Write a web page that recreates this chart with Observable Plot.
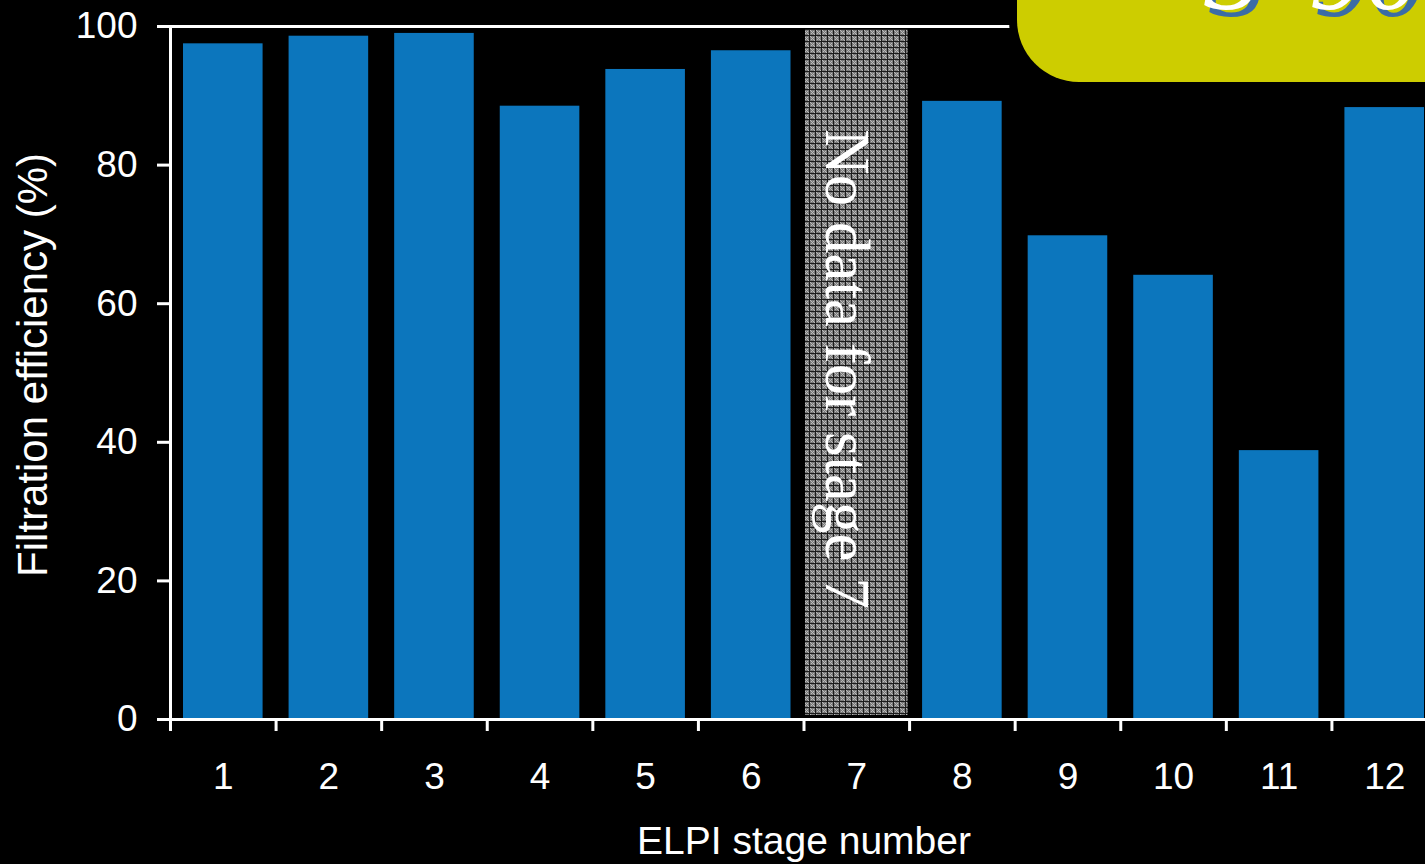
<!DOCTYPE html>
<html>
<head>
<meta charset="utf-8">
<script src="https://cdn.jsdelivr.net/npm/d3@7"></script>
<script src="https://cdn.jsdelivr.net/npm/@observablehq/plot@0.6"></script>
<style>
  html, body { margin: 0; padding: 0; background: #000; overflow: hidden; width: 1425px; height: 864px; }
  #chart { position: absolute; left: 0; top: 0; }
  #chart svg { max-width: none !important; }
  #badge {
    position: absolute; left: 1009px; top: -20px; width: 440px; height: 102px;
    background: #cdcd00; border-left: 8px solid #000; border-bottom: 8px solid #000;
    border-radius: 0 0 0 70px; overflow: hidden;
  }
  #badge span {
    position: absolute; font-family: "Liberation Serif", "Times New Roman", serif;
    font-style: italic; font-size: 112px; line-height: 1; color: #fff;
    text-shadow: 5px 7px 0 #3b6ca6;
  }
</style>
</head>
<body>
<div id="chart"></div>
<div id="badge"><span style="left:186px;top:-65px">S</span><span style="left:292px;top:-65px">90</span></div>
<script>
// ELPI stages and measured filtration efficiency (%); stage 7 has no measurement
const stages = [1, 2, 3, 4, 5, 6, 7, 8, 9, 10, 11, 12];
const efficiency = [97.5, 98.6, 99.0, 88.5, 93.8, 96.5, null, 89.2, 69.8, 64.1, 38.8, 88.3];
const yTicks = [0, 20, 40, 60, 80, 100];
const noDataStage = 7;
const noDataText = "No data for stage 7";
const xLabel = "ELPI stage number";
const yLabel = "Filtration efficiency (%)";

const rows = stages
  .map((s, i) => ({stage: s, eff: efficiency[i]}))
  .filter(d => d.eff != null);
// tick marks sit on the boundaries between stages
const boundaries = stages.map(s => s - 0.5).concat([stages[stages.length - 1] + 0.5]);

const chart = Plot.plot({
  width: 1437,
  height: 864,
  marginLeft: 170,
  marginRight: 0,
  marginTop: 26,
  marginBottom: 145,
  style: {
    background: "#000",
    color: "#fff",
    fontFamily: "'Liberation Sans', Arial, sans-serif",
    fontSize: "37px",
    maxWidth: "none"
  },
  x: {type: "linear", domain: [0.5, 12.5]},
  y: {domain: [0, 100]},
  marks: [
    // hatched placeholder for the missing stage
    Plot.rectY([noDataStage], {
      x1: d => d - 0.5, x2: d => d + 0.5, y1: 0, y2: 100,
      fill: "url(#nodata)", insetLeft: 1.5, insetRight: 1.5, insetTop: 3, insetBottom: 4
    }),
    Plot.rectY(rows, {
      x1: d => d.stage - 0.5, x2: d => d.stage + 0.5, y1: 0, y2: "eff",
      fill: "#0c76bd", insetLeft: 13, insetRight: 13
    }),
    Plot.text([noDataText], {
      x: noDataStage, y: 50, rotate: 90, text: d => d, textAnchor: "middle",
      fill: "#fff", fontFamily: "'Liberation Serif', 'Times New Roman', serif",
      fontSize: 63, lineAnchor: "bottom", dx: -31, dy: -4
    }),
    // frame lines
    Plot.ruleY([0, 100], {stroke: "#fff", strokeWidth: 3}),
    Plot.ruleX([0.5], {y1: 0, y2: 100, stroke: "#fff", strokeWidth: 3}),
    // axes
    Plot.axisY({ticks: yTicks, tickSize: 13, tickPadding: 20, strokeWidth: 3, fontSize: 37, label: null}),
    Plot.axisX({ticks: boundaries, tickSize: 12, tickFormat: () => "", strokeWidth: 3, label: null}),
    Plot.axisX({ticks: stages, tickSize: 0, tickPadding: 43, tickFormat: d => String(d), fontSize: 37, label: null}),
    // axis titles
    Plot.text([xLabel], {frameAnchor: "bottom", text: d => d, textAnchor: "middle", lineAnchor: "top", dy: 107, fill: "#fff", fontSize: 39}),
    Plot.text([yLabel], {frameAnchor: "left", text: d => d, textAnchor: "middle", rotate: -90, lineAnchor: "bottom", dx: -124, dy: -8, fill: "#fff", fontSize: 42})
  ]
});

// tile for the "no data" fill
const defs = d3.select(chart).insert("defs", ":first-child");
const pat = defs.append("pattern")
  .attr("id", "nodata").attr("patternUnits", "userSpaceOnUse")
  .attr("width", 6).attr("height", 6)
  .attr("shape-rendering", "crispEdges");
pat.append("rect").attr("width", 6).attr("height", 6).attr("fill", "#7a7a7a");
[[1, 1], [3, 1], [1, 3], [3, 3], [0, 0], [2, 2], [4, 4]].forEach(([x, y]) =>
  pat.append("rect").attr("x", x).attr("y", y).attr("width", 1).attr("height", 1).attr("fill", "#bcbcbc"));
pat.append("rect").attr("x", 5).attr("y", 0).attr("width", 1).attr("height", 6).attr("fill", "#1c1c1c");
pat.append("rect").attr("x", 0).attr("y", 5).attr("width", 6).attr("height", 1).attr("fill", "#1c1c1c");

document.getElementById("chart").appendChild(chart);
</script>
</body>
</html>
